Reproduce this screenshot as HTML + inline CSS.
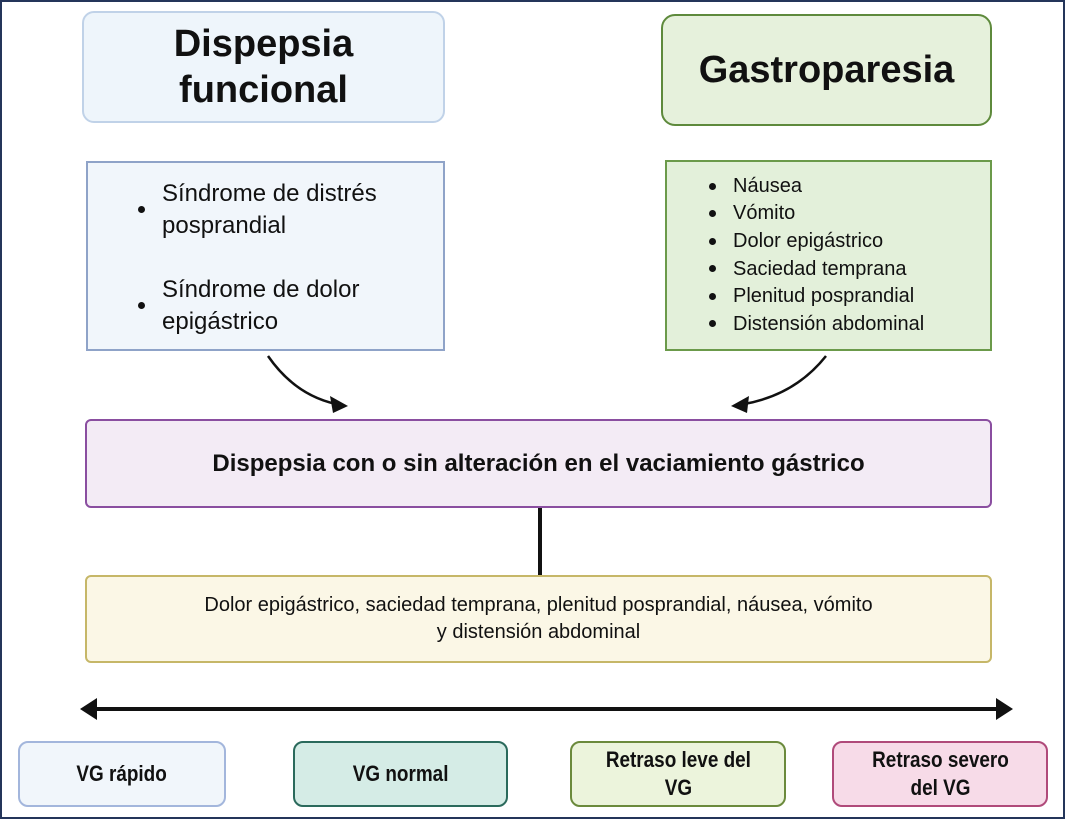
<!DOCTYPE html><html><head><meta charset="utf-8"><style>
body{margin:0;width:1065px;height:819px;position:relative;background:#fff;font-family:"Liberation Sans",sans-serif;overflow:hidden}
.b{position:absolute;box-sizing:border-box;display:flex;align-items:center;justify-content:center;text-align:center;color:#111}
.frame{position:absolute;left:0;top:0;width:1065px;height:819px;box-sizing:border-box;border:2px solid #24355a}
ul{margin:0;padding-left:0;list-style:none;text-align:left}
li{position:relative;padding-left:28px}
li:before{content:"";position:absolute;left:4px;top:50%;width:7px;height:7px;margin-top:-4px;border-radius:50%;background:#111}
.c{display:inline-block;transform:scaleX(0.86)}
</style></head><body>
<div class="frame"></div>
<div class="b" style="left:82px;top:11px;width:363px;height:112px;background:#eef5fb;border:2px solid #c0d2e8;border-radius:12px;font-weight:bold;font-size:38px;line-height:46px">Dispepsia<br>funcional</div>
<div class="b" style="left:86px;top:161px;width:359px;height:190px;background:#f1f6fb;border:2px solid #8fa3c8;justify-content:flex-start;padding-left:46px;font-size:24px;line-height:32px">
<ul style="margin-top:4px"><li style="margin-bottom:32px">Síndrome de distrés<br>posprandial</li><li>Síndrome de dolor<br>epigástrico</li></ul></div>
<div class="b" style="left:661px;top:14px;width:331px;height:112px;background:#e6f1dc;border:2px solid #5e8a3c;border-radius:14px;font-weight:bold;font-size:38px">Gastroparesia</div>
<div class="b" style="left:665px;top:160px;width:327px;height:191px;background:#e3f0da;border:2px solid #6b9a4a;justify-content:flex-start;padding-left:38px;font-size:20px;line-height:27.6px">
<ul><li>Náusea</li><li>Vómito</li><li>Dolor epigástrico</li><li>Saciedad temprana</li><li>Plenitud posprandial</li><li>Distensión abdominal</li></ul></div>
<svg style="position:absolute;left:0;top:0" width="1065" height="819">
<path d="M268 356 Q295 395 336 404" fill="none" stroke="#111" stroke-width="2.5"/>
<polygon points="348,406 330,396 333,413" fill="#111"/>
<path d="M826 356 Q795 395 744 404" fill="none" stroke="#111" stroke-width="2.5"/>
<polygon points="731,406 749,396 747,413" fill="#111"/>
<line x1="540" y1="508" x2="540" y2="576" stroke="#111" stroke-width="4"/>
<line x1="92" y1="709" x2="1000" y2="709" stroke="#111" stroke-width="4"/>
<polygon points="80,709 97,698 97,720" fill="#111"/>
<polygon points="1013,709 996,698 996,720" fill="#111"/>
</svg>
<div class="b" style="left:85px;top:419px;width:907px;height:89px;background:#f3ebf5;border:2px solid #8a4ea0;border-radius:6px;font-weight:bold;font-size:24px">Dispepsia con o sin alteración en el vaciamiento gástrico</div>
<div class="b" style="left:85px;top:575px;width:907px;height:88px;background:#fbf7e6;border:2px solid #c6b768;border-radius:6px;font-size:20px;line-height:27px">Dolor epigástrico, saciedad temprana, plenitud posprandial, náusea, vómito<br>y distensión abdominal</div>
<div class="b" style="left:18px;top:741px;width:208px;height:66px;background:#f1f6fb;border:2px solid #a3b6dc;border-radius:10px;font-weight:bold;font-size:22px"><span class="c">VG rápido</span></div>
<div class="b" style="left:293px;top:741px;width:215px;height:66px;background:#d5ece6;border:2px solid #2b6a5c;border-radius:10px;font-weight:bold;font-size:22px"><span class="c">VG normal</span></div>
<div class="b" style="left:570px;top:741px;width:216px;height:66px;background:#ecf4dc;border:2px solid #6b8a3c;border-radius:10px;font-weight:bold;font-size:22px;line-height:28px"><span class="c">Retraso leve del<br>VG</span></div>
<div class="b" style="left:832px;top:741px;width:216px;height:66px;background:#f7dbe8;border:2px solid #b04a7a;border-radius:10px;font-weight:bold;font-size:22px;line-height:28px"><span class="c">Retraso severo<br>del VG</span></div>
</body></html>
